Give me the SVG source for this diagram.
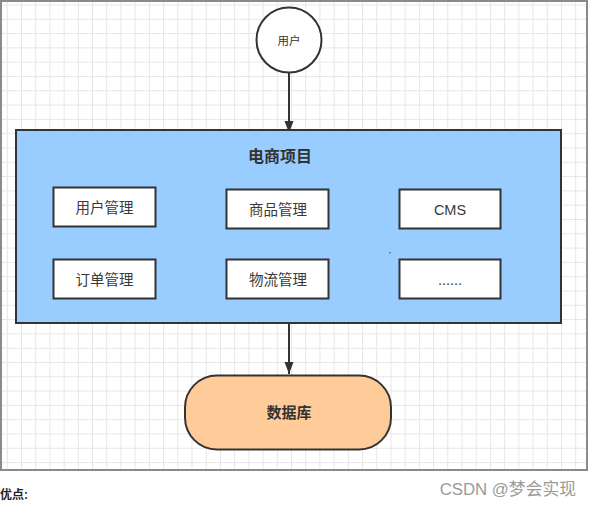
<svg xmlns="http://www.w3.org/2000/svg" width="590" height="507" viewBox="0 0 590 507">
<defs>
  <pattern id="grid" patternUnits="userSpaceOnUse" x="6.8" y="4.5" width="14.21" height="14.3">
    <path d="M0.5,0 V14.3 M0,0.5 H14.21" fill="none" stroke="#e6e6e6" stroke-width="1"/>
  </pattern>
  <marker id="arrow" markerUnits="userSpaceOnUse" markerWidth="12" markerHeight="10" refX="12" refY="4.5" orient="auto">
    <path d="M0,0 L12,4.5 L0,9 Z" fill="#333"/>
  </marker>
  <style>
    .t{font-family:"Liberation Sans","Noto Sans CJK SC",sans-serif;fill:#333;text-anchor:middle;dominant-baseline:central}
    .s{font-size:14.5px;fill:#3a3a3a}
    .sub{fill:#fff;stroke:#333;stroke-width:2}
    .conn{stroke:#333;stroke-width:2;fill:none;marker-end:url(#arrow)}
  </style>
</defs>
<rect x="0" y="0" width="590" height="507" fill="#fff"/>
<rect x="1" y="1" width="586" height="469" fill="url(#grid)" stroke="#8a8a8a" stroke-width="2"/>

<g id="connectors">
  <line class="conn" x1="289" y1="72" x2="289" y2="133"/>
  <line class="conn" x1="289" y1="323" x2="289" y2="374"/>
</g>

<g id="user">
  <circle cx="289" cy="40" r="32.5" fill="#fff" stroke="#333" stroke-width="2"/>
  <text class="t" x="289" y="41" font-size="11.5">用户</text>
</g>

<g id="project">
  <rect x="16" y="130" width="545" height="193" fill="#99ccff" stroke="#333" stroke-width="2"/>
  <text class="t" x="280" y="156" font-size="16" font-weight="bold">电商项目</text>
</g>

<g id="user-mgmt">
  <rect class="sub" x="53.5" y="187.5" width="102" height="39"/>
  <text class="t s" x="104.5" y="207.5">用户管理</text>
</g>
<g id="goods-mgmt">
  <rect class="sub" x="226.5" y="189.5" width="102" height="39"/>
  <text class="t s" x="278" y="209.5">商品管理</text>
</g>
<g id="cms">
  <rect class="sub" x="399.5" y="189.5" width="101" height="39"/>
  <text class="t s" x="450" y="209.5">CMS</text>
</g>
<g id="order-mgmt">
  <rect class="sub" x="53.5" y="259.5" width="102" height="39"/>
  <text class="t s" x="104.5" y="279.5">订单管理</text>
</g>
<g id="logistics-mgmt">
  <rect class="sub" x="226.5" y="259.5" width="102" height="39"/>
  <text class="t s" x="278" y="279.5">物流管理</text>
</g>
<g id="more">
  <rect class="sub" x="399.5" y="259.5" width="101" height="39"/>
  <text class="t s" x="450" y="279.5">......</text>
</g>
<circle cx="390" cy="252.7" r="0.8" fill="#555"/>

<g id="database">
  <rect x="185" y="375.5" width="206" height="74" rx="32" ry="32" fill="#ffcc99" stroke="#333" stroke-width="2"/>
  <text class="t" x="289" y="412.5" font-size="15" font-weight="bold">数据库</text>
</g>

<text x="0" y="499" font-family="Liberation Sans,'Noto Sans CJK SC',sans-serif" font-size="12" font-weight="bold" fill="#222">优点:</text>
<text x="576" y="495" font-family="Liberation Sans,'Noto Sans CJK SC',sans-serif" font-size="16.8" fill="#9a9a9a" text-anchor="end">CSDN @梦会实现</text>
</svg>
